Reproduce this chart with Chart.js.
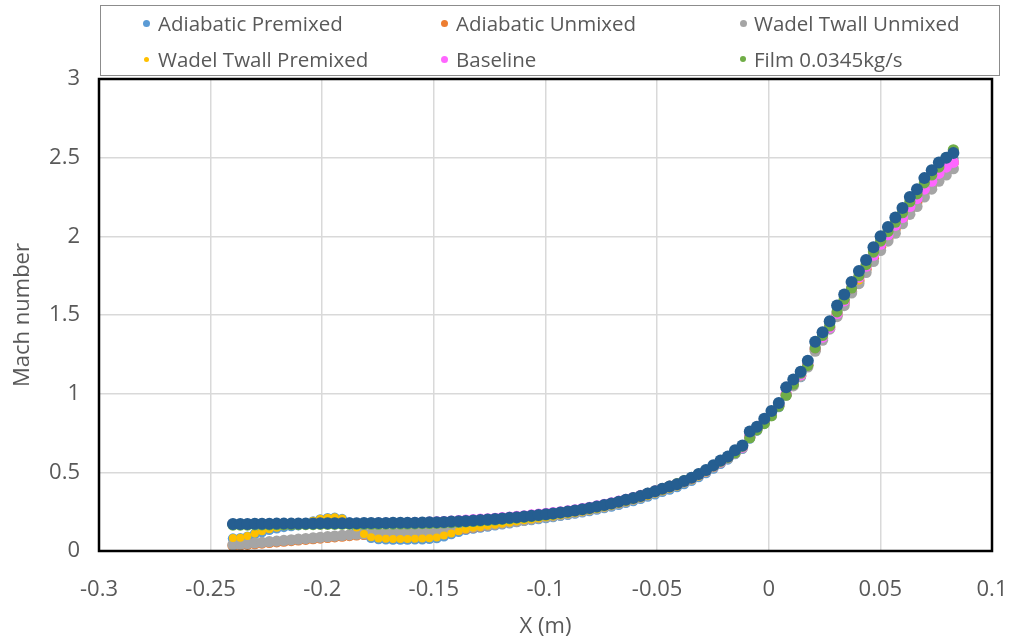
<!DOCTYPE html>
<html>
<head>
<meta charset="utf-8">
<script src="https://cdn.jsdelivr.net/npm/chart.js@4.4.0/dist/chart.umd.min.js"></script>
<style>
  html, body { margin: 0; padding: 0; background: #ffffff; }
  #wrap { position: relative; width: 1016px; height: 641px; }
  #legend { position: absolute; left: 100px; top: 5px; width: 900px; height: 71px; box-sizing: border-box;
            border: 1px solid #8c8c8c; font-family: "Open Sans", sans-serif; font-size: 20.5px; color: #595959; }
  .lg-item { position: absolute; white-space: nowrap; line-height: 24px; height: 24px; }
  .lg-dot { position: absolute; border-radius: 50%; }
</style>
</head>
<body>
<div id="wrap">
  <canvas id="chart" width="1016" height="641"></canvas>
  <div id="legend"></div>
</div>
<script>
// ---------- data ----------
const xPos = [
  -0.2400,-0.2367,-0.2335,-0.2302,-0.2270,-0.2237,-0.2204,-0.2172,-0.2139,-0.2107,
  -0.2074,-0.2041,-0.2009,-0.1976,-0.1944,-0.1911,-0.1878,-0.1846,-0.1813,-0.1781,
  -0.1748,-0.1715,-0.1683,-0.1650,-0.1618,-0.1585,-0.1552,-0.1520,-0.1487,-0.1455,
  -0.1422,-0.1389,-0.1357,-0.1324,-0.1292,-0.1259,-0.1226,-0.1194,-0.1161,-0.1129,
  -0.1096,-0.1063,-0.1031,-0.0998,-0.0966,-0.0933,-0.0900,-0.0868,-0.0835,-0.0803,
  -0.0770,-0.0737,-0.0705,-0.0672,-0.0640,-0.0607,-0.0574,-0.0542,-0.0509,-0.0477,
  -0.0444,-0.0411,-0.0379,-0.0346,-0.0314,-0.0281,-0.0248,-0.0216,-0.0183,-0.0151,
  -0.0118,-0.0085,-0.0053,-0.0020, 0.0012, 0.0045, 0.0078, 0.0110, 0.0143, 0.0175,
   0.0208, 0.0241, 0.0273, 0.0306, 0.0338, 0.0371, 0.0404, 0.0436, 0.0469, 0.0501,
   0.0534, 0.0567, 0.0599, 0.0632, 0.0664, 0.0697, 0.0730, 0.0762, 0.0795, 0.0827
];

const adiabaticPremixed = [
  0.079,0.081,0.091,0.108,0.121,0.134,0.144,0.153,0.159,0.164,
  0.171,0.188,0.201,0.208,0.211,0.203,0.181,0.146,0.104,0.084,
  0.076,0.074,0.073,0.073,0.073,0.074,0.075,0.077,0.082,0.094,
  0.108,0.122,0.134,0.143,0.149,0.156,0.163,0.169,0.176,0.184,
  0.192,0.196,0.203,0.210,0.216,0.223,0.230,0.238,0.246,0.254,
  0.263,0.273,0.283,0.294,0.306,0.318,0.331,0.346,0.361,0.376,
  0.391,0.406,0.426,0.446,0.470,0.495,0.524,0.554,0.582,0.616,
  0.650,0.715,0.765,0.810,0.860,0.915,0.995,1.055,1.105,1.175,
  1.285,1.355,1.425,1.515,1.585,1.665,1.715,1.805,1.885,1.955,
  2.015,2.075,2.135,2.205,2.255,2.325,2.375,2.425,2.465,2.495
];

const adiabaticUnmixed = [
  0.035,0.038,0.042,0.046,0.050,0.054,0.058,0.062,0.066,0.070,
  0.074,0.078,0.082,0.086,0.090,0.094,0.098,0.102,0.105,0.107,
  0.109,0.110,0.111,0.112,0.113,0.114,0.116,0.119,0.122,0.126,
  0.131,0.137,0.143,0.150,0.157,0.164,0.171,0.178,0.185,0.192,
  0.199,0.206,0.213,0.220,0.228,0.236,0.244,0.252,0.261,0.270,
  0.280,0.290,0.301,0.312,0.324,0.336,0.350,0.364,0.378,0.393,
  0.408,0.424,0.443,0.462,0.485,0.510,0.538,0.568,0.595,0.625,
  0.660,0.725,0.775,0.820,0.865,0.925,0.995,1.060,1.115,1.180,
  1.280,1.350,1.420,1.500,1.580,1.650,1.720,1.790,1.860,1.930,
  1.990,2.050,2.110,2.170,2.220,2.280,2.330,2.380,2.420,2.470
];

const wadelTwallUnmixed = [
  0.040,0.043,0.047,0.051,0.055,0.059,0.063,0.067,0.071,0.075,
  0.079,0.083,0.087,0.091,0.095,0.099,0.103,0.107,0.110,0.112,
  0.114,0.115,0.116,0.117,0.118,0.119,0.120,0.122,0.125,0.129,
  0.134,0.140,0.146,0.152,0.158,0.164,0.170,0.176,0.182,0.188,
  0.195,0.202,0.209,0.216,0.222,0.229,0.236,0.244,0.252,0.261,
  0.270,0.280,0.291,0.302,0.314,0.327,0.340,0.355,0.370,0.386,
  0.401,0.417,0.436,0.456,0.480,0.505,0.533,0.562,0.590,0.620,
  0.655,0.720,0.770,0.815,0.860,0.920,0.990,1.050,1.110,1.170,
  1.270,1.340,1.410,1.490,1.560,1.640,1.700,1.770,1.840,1.910,
  1.970,2.020,2.080,2.140,2.190,2.250,2.300,2.350,2.390,2.430
];

const wadelTwallPremixed = [
  0.083,0.085,0.095,0.112,0.125,0.138,0.148,0.157,0.163,0.168,
  0.175,0.192,0.205,0.212,0.215,0.207,0.185,0.150,0.108,0.088,
  0.080,0.078,0.077,0.077,0.077,0.078,0.079,0.081,0.086,0.098,
  0.112,0.126,0.138,0.147,0.153,0.160,0.167,0.173,0.180,0.188,
  0.196,0.200,0.207,0.214,0.220,0.227,0.234,0.242,0.250,0.258,
  0.267,0.277,0.287,0.298,0.310,0.322,0.335,0.350,0.365,0.380,
  0.395,0.410,0.430,0.450,0.474,0.499,0.528,0.558,0.586,0.620,
  0.655,0.720,0.770,0.815,0.865,0.920,1.000,1.060,1.110,1.180,
  1.290,1.360,1.430,1.520,1.590,1.670,1.720,1.810,1.890,1.960,
  2.020,2.080,2.140,2.210,2.260,2.330,2.380,2.430,2.470,2.500
];

const baseline = [
  0.170,0.170,0.170,0.171,0.171,0.171,0.172,0.172,0.172,0.173,
  0.173,0.173,0.174,0.174,0.174,0.175,0.175,0.175,0.176,0.176,
  0.177,0.177,0.178,0.178,0.179,0.180,0.181,0.183,0.185,0.187,
  0.190,0.193,0.196,0.199,0.202,0.205,0.208,0.212,0.216,0.220,
  0.224,0.229,0.234,0.239,0.244,0.249,0.255,0.262,0.270,0.278,
  0.287,0.296,0.306,0.317,0.328,0.340,0.353,0.367,0.382,0.397,
  0.412,0.427,0.445,0.464,0.487,0.510,0.538,0.567,0.595,0.628,
  0.660,0.730,0.780,0.825,0.870,0.930,1.000,1.070,1.120,1.190,
  1.290,1.360,1.420,1.510,1.590,1.670,1.740,1.810,1.880,1.950,
  2.010,2.070,2.120,2.190,2.240,2.300,2.350,2.400,2.440,2.470
];

const film0345 = [
  0.165,0.165,0.165,0.166,0.166,0.166,0.167,0.167,0.167,0.168,
  0.168,0.168,0.169,0.169,0.169,0.170,0.170,0.170,0.170,0.170,
  0.170,0.171,0.171,0.172,0.172,0.173,0.174,0.175,0.176,0.178,
  0.180,0.182,0.185,0.188,0.191,0.194,0.197,0.201,0.205,0.209,
  0.214,0.219,0.224,0.229,0.235,0.241,0.248,0.255,0.263,0.271,
  0.280,0.290,0.300,0.312,0.324,0.337,0.351,0.366,0.381,0.396,
  0.412,0.428,0.447,0.466,0.488,0.512,0.540,0.570,0.595,0.625,
  0.665,0.720,0.770,0.810,0.860,0.920,0.990,1.060,1.130,1.180,
  1.290,1.370,1.430,1.520,1.600,1.670,1.750,1.820,1.900,1.970,
  2.030,2.090,2.150,2.220,2.270,2.340,2.390,2.440,2.500,2.550
];

// dark-blue series drawn on top (no legend entry in the original)
const unlabeledSeries = [
  0.172,0.172,0.172,0.173,0.173,0.173,0.174,0.174,0.174,0.175,
  0.175,0.175,0.176,0.176,0.176,0.177,0.177,0.177,0.178,0.178,
  0.178,0.178,0.179,0.179,0.180,0.180,0.181,0.182,0.183,0.185,
  0.187,0.189,0.191,0.194,0.197,0.200,0.203,0.207,0.211,0.215,
  0.219,0.224,0.229,0.234,0.239,0.245,0.251,0.258,0.266,0.274,
  0.283,0.292,0.302,0.313,0.325,0.337,0.350,0.365,0.380,0.395,
  0.410,0.425,0.445,0.465,0.490,0.515,0.545,0.575,0.600,0.640,
  0.670,0.760,0.790,0.840,0.890,0.940,1.040,1.090,1.140,1.210,
  1.330,1.390,1.460,1.560,1.630,1.710,1.780,1.850,1.930,2.000,
  2.060,2.120,2.180,2.250,2.300,2.370,2.420,2.470,2.500,2.530
];

const xTickValues = [-0.3, -0.25, -0.2, -0.15, -0.1, -0.05, 0, 0.05, 0.1];
const xTickLabels = ['-0.3', '-0.25', '-0.2', '-0.15', '-0.1', '-0.05', '0', '0.05', '0.1'];
const yTickValues = [0, 0.5, 1, 1.5, 2, 2.5, 3];
const yTickLabels = ['0', '0.5', '1', '1.5', '2', '2.5', '3'];
const xTitle = 'X (m)';
const yTitle = 'Mach number';

// ---------- chart ----------
function pts(arr) { return xPos.map((x, i) => ({ x: x, y: arr[i] })); }

function makeDataset(label, arr, color, radius, order, legendSlot, legendDot) {
  return {
    label: label, data: pts(arr), showLine: false,
    backgroundColor: color, borderColor: color, borderWidth: 0,
    pointRadius: radius, pointHoverRadius: radius, order: order,
    legendSlot: legendSlot, legendDot: legendDot
  };
}

const datasets = [
  makeDataset('Adiabatic Premixed', adiabaticPremixed, '#5B9BD5', 5.2, 6, [0, 0], 7),
  makeDataset('Adiabatic Unmixed', adiabaticUnmixed, '#ED7D31', 5.6, 5, [1, 0], 7),
  makeDataset('Wadel Twall Unmixed', wadelTwallUnmixed, '#A5A5A5', 5.6, 4, [2, 0], 7),
  makeDataset('Wadel Twall Premixed', wadelTwallPremixed, '#FFC000', 4.0, 3, [0, 1], 5),
  makeDataset('Baseline', baseline, '#FF66FF', 5.6, 2, [1, 1], 7),
  makeDataset('Film 0.0345kg/s', film0345, '#70AD47', 5.6, 1, [2, 1], 6),
  makeDataset('Series 7', unlabeledSeries, '#255E91', 6, 0, null, 0)
];

const htmlLegend = {
  id: 'htmlLegend',
  afterUpdate(chart) {
    const box = document.getElementById('legend');
    box.innerHTML = '';
    const colDot = [45, 343, 642], colText = [57, 355, 653], rowY = [18, 54];
    chart.data.datasets.forEach(ds => {
      if (!ds.legendSlot) return;
      const [c, r] = ds.legendSlot;
      const dot = document.createElement('span');
      dot.className = 'lg-dot';
      const d = ds.legendDot;
      dot.style.width = d + 'px'; dot.style.height = d + 'px';
      dot.style.left = (colDot[c] - d / 2) + 'px';
      dot.style.top = (rowY[r] - d / 2 - 1) + 'px';
      dot.style.background = ds.backgroundColor;
      box.appendChild(dot);
      const t = document.createElement('span');
      t.className = 'lg-item';
      t.textContent = ds.label;
      t.style.left = colText[c] + 'px';
      t.style.top = (rowY[r] - 13) + 'px';
      box.appendChild(t);
    });
  }
};

const framePlugin = {
  id: 'frame',
  afterDatasetsDraw(chart) {
    const { ctx, chartArea: a } = chart;
    ctx.save();
    ctx.strokeStyle = '#000000';
    ctx.lineWidth = 2.5;
    ctx.strokeRect(a.left, a.top, a.right - a.left, a.bottom - a.top);
    ctx.restore();
  }
};

const tickFont = { family: '"Open Sans", sans-serif', size: 22 };

new Chart(document.getElementById('chart'), {
  type: 'scatter',
  data: { datasets: datasets },
  plugins: [htmlLegend, framePlugin],
  options: {
    responsive: false,
    animation: false,
    events: [],
    layout: { padding: { top: 79, right: 24, bottom: 0, left: 0 } },
    plugins: { legend: { display: false }, tooltip: { enabled: false } },
    scales: {
      x: {
        type: 'linear', min: -0.3, max: 0.1,
        afterBuildTicks: s => { s.ticks = xTickValues.map(v => ({ value: v })); },
        afterFit: s => { s.height = 90; s.paddingLeft = 0; s.paddingRight = 0; },
        grid: { color: '#D9D9D9', lineWidth: 1.5, drawTicks: false },
        border: { display: false },
        ticks: {
          autoSkip: false, maxRotation: 0, padding: 26, color: '#595959', font: tickFont,
          callback: v => { const k = xTickValues.findIndex(t => Math.abs(t - v) < 1e-9); return k >= 0 ? xTickLabels[k] : ''; }
        },
        title: { display: true, text: xTitle, color: '#595959', font: tickFont, padding: { top: 0, bottom: 1 } }
      },
      y: {
        type: 'linear', min: 0, max: 3,
        afterBuildTicks: s => { s.ticks = yTickValues.map(v => ({ value: v })); },
        afterFit: s => { s.width = 99; s.paddingTop = 0; s.paddingBottom = 0; },
        grid: { color: '#D9D9D9', lineWidth: 1.5, drawTicks: false },
        border: { display: false },
        ticks: {
          padding: 19, color: '#595959', font: tickFont,
          callback: v => { const k = yTickValues.findIndex(t => Math.abs(t - v) < 1e-9); return k >= 0 ? yTickLabels[k] : ''; }
        },
        title: { display: true, text: yTitle, color: '#595959', font: tickFont, padding: { top: 10, bottom: 0 } }
      }
    }
  }
});
</script>
</body>
</html>
